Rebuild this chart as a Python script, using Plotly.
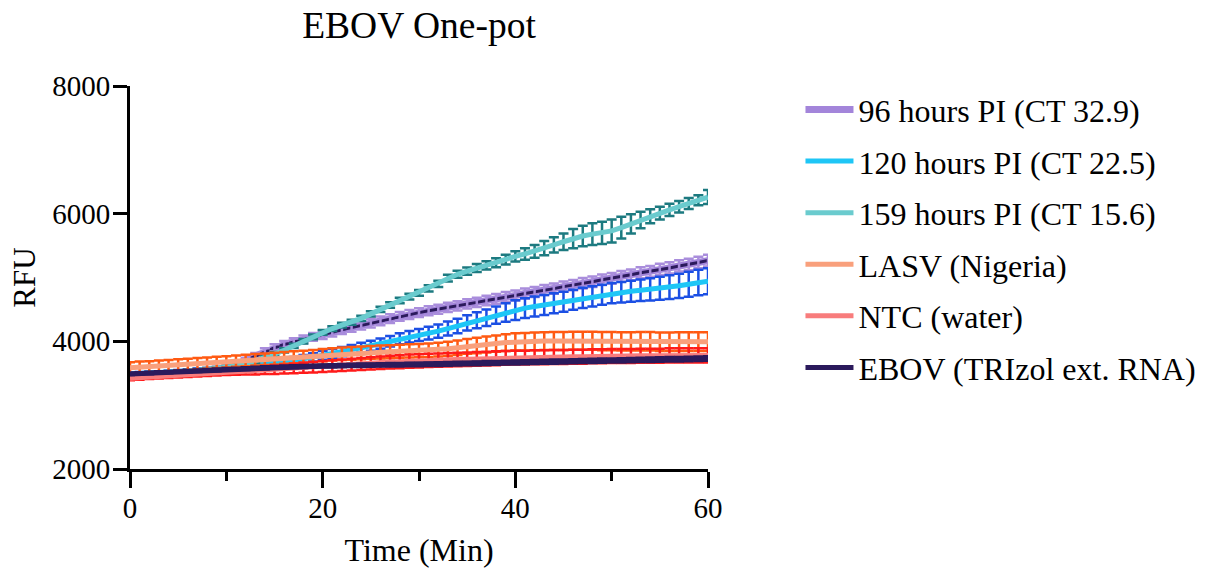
import plotly.graph_objects as go

TIME = list(range(0, 61))

SERIES_NAMES = ["96 hours PI (CT 32.9)", "120 hours PI (CT 22.5)", "159 hours PI (CT 15.6)",
                "LASV (Nigeria)", "NTC (water)", "EBOV (TRIzol ext. RNA)"]

M96 = [3450, 3460, 3470, 3480, 3495, 3505, 3520, 3530, 3545, 3560, 3580,
       3630, 3700, 3770, 3840, 3900, 3950, 3990, 4030, 4070, 4100,
       4140, 4180, 4215, 4250, 4285, 4320, 4355, 4390, 4420, 4450,
       4478, 4503, 4533, 4556, 4587, 4610, 4641, 4664, 4695, 4718,
       4749, 4772, 4803, 4826, 4857, 4880, 4911, 4934, 4965, 4988,
       5019, 5042, 5073, 5096, 5127, 5150, 5181, 5204, 5236, 5265]
E96 = [30, 30, 30, 30, 30, 32, 32, 32, 34, 34, 35,
       38, 42, 46, 50, 54, 56, 58, 60, 62, 64,
       64, 65, 66, 66, 67, 68, 68, 69, 70, 70,
       71, 72, 72, 73, 74, 74, 75, 76, 76, 77,
       78, 78, 79, 80, 80, 81, 82, 82, 83, 84,
       84, 85, 86, 86, 87, 88, 88, 89, 90, 92]

M120 = [3490, 3495, 3500, 3505, 3515, 3525, 3535, 3545, 3555, 3570, 3585,
        3595, 3610, 3625, 3640, 3655, 3675, 3700, 3725, 3750, 3780,
        3810, 3840, 3870, 3900, 3930, 3965, 4000, 4040, 4070, 4100,
        4130, 4160, 4200, 4240, 4290, 4330, 4370, 4410, 4450, 4490,
        4520, 4545, 4570, 4595, 4620, 4650, 4680, 4705, 4730, 4755,
        4770, 4785, 4800, 4815, 4830, 4850, 4870, 4895, 4920, 4940]
E120 = [25, 25, 25, 26, 26, 27, 27, 28, 28, 29, 30,
        32, 35, 38, 42, 46, 50, 55, 60, 64, 68,
        70, 72, 74, 76, 78, 80, 82, 85, 90, 95,
        100, 105, 110, 115, 120, 125, 130, 135, 145, 155,
        155, 156, 156, 157, 157, 157, 158, 158, 157, 157,
        160, 165, 170, 175, 180, 185, 190, 195, 200, 204]

M159 = [3460, 3470, 3480, 3490, 3500, 3515, 3530, 3545, 3560, 3575, 3595,
        3615, 3645, 3690, 3740, 3800, 3860, 3930, 4000, 4070, 4140,
        4200, 4255, 4300, 4360, 4430, 4500, 4570, 4640, 4700, 4760,
        4830, 4900, 4990, 5050, 5100, 5150, 5190, 5230, 5280, 5330,
        5370, 5410, 5460, 5510, 5560, 5610, 5650, 5680, 5700, 5730,
        5780, 5840, 5900, 5960, 6010, 6060, 6110, 6160, 6210, 6260]
E159 = [20, 20, 20, 20, 20, 21, 21, 22, 22, 23, 24,
        25, 26, 28, 30, 32, 33, 34, 35, 36, 37,
        38, 38, 39, 40, 40, 41, 42, 43, 44, 45,
        48, 50, 52, 55, 58, 62, 66, 70, 75, 80,
        90, 100, 110, 120, 130, 150, 160, 170, 175, 180,
        170, 150, 130, 110, 100, 95, 90, 85, 80, 110]

MLASV = [3585, 3595, 3600, 3610, 3620, 3630, 3640, 3650, 3660, 3670, 3680,
         3690, 3700, 3710, 3720, 3730, 3740, 3750, 3760, 3770, 3785,
         3795, 3805, 3812, 3820, 3826, 3832, 3838, 3844, 3850, 3855,
         3860, 3870, 3885, 3900, 3920, 3935, 3950, 3965, 3980, 3990,
         3995, 4000, 4005, 4005, 4005, 4010, 4010, 4010, 4005, 4005,
         4000, 4000, 4000, 4000, 3995, 3995, 3995, 3995, 3995, 3995]
ELASV = [88, 88, 88, 88, 88, 88, 88, 88, 88, 88, 88,
         89, 89, 90, 90, 91, 92, 93, 94, 95, 96,
         97, 98, 99, 100, 100, 101, 102, 103, 104, 105,
         106, 108, 110, 113, 116, 120, 124, 128, 132, 135,
         137, 138, 139, 140, 140, 141, 142, 142, 143, 143,
         144, 144, 145, 145, 145, 145, 146, 146, 146, 146]

MNTC = [3420, 3430, 3440, 3450, 3460, 3470, 3480, 3490, 3500, 3510, 3520,
        3525, 3535, 3540, 3550, 3555, 3565, 3575, 3585, 3595, 3605,
        3615, 3625, 3635, 3645, 3655, 3665, 3675, 3680, 3690, 3695,
        3700, 3705, 3710, 3715, 3720, 3725, 3730, 3735, 3740, 3745,
        3745, 3750, 3750, 3755, 3755, 3760, 3760, 3765, 3765, 3770,
        3770, 3770, 3775, 3775, 3775, 3780, 3780, 3780, 3780, 3780]
ENTC = [30, 30, 32, 34, 36, 38, 40, 42, 44, 46, 48,
        50, 54, 58, 62, 66, 70, 74, 78, 82, 85,
        88, 90, 92, 94, 96, 98, 100, 101, 102, 103,
        104, 105, 106, 106, 107, 107, 108, 108, 108, 108,
        109, 109, 109, 109, 110, 110, 110, 110, 110, 110,
        110, 110, 110, 110, 110, 110, 110, 110, 110, 110]

MEBOV = [3490, 3497, 3504, 3511, 3518, 3525, 3532, 3540, 3547, 3554, 3560,
         3567, 3573, 3580, 3586, 3592, 3598, 3602, 3606, 3610, 3613,
         3616, 3619, 3622, 3625, 3627, 3630, 3632, 3634, 3636, 3638,
         3640, 3643, 3646, 3650, 3653, 3656, 3660, 3663, 3666, 3670,
         3673, 3676, 3679, 3682, 3685, 3688, 3691, 3694, 3697, 3700,
         3703, 3706, 3709, 3712, 3715, 3718, 3721, 3724, 3727, 3730]
EEBOV = [18, 18, 18, 19, 19, 19, 20, 20, 20, 21, 21,
         21, 22, 22, 22, 23, 23, 23, 24, 24, 24,
         25, 25, 25, 26, 26, 26, 27, 27, 27, 28,
         28, 28, 29, 29, 29, 30, 30, 30, 30, 31,
         31, 31, 31, 32, 32, 32, 32, 33, 33, 33,
         33, 34, 34, 34, 34, 35, 35, 35, 35, 35]

LINE_COLORS = ["#A385DA", "#1EC6F6", "#6ACBCE", "#F9A07C", "#F87C7C", "#2B1A5C"]
ERR_COLORS = ["#A98DDC", "#1B4FE4", "#1C7A80", "#FF5A12", "#FF1A1A", "#2B1A5C"]

FONT = "Liberation Serif, Times New Roman, serif"

fig = go.Figure()

means = [M96, M120, M159, MLASV, MNTC, MEBOV]
errs = [E96, E120, E159, ELASV, ENTC, EEBOV]

for i, (name, m, e) in enumerate(zip(SERIES_NAMES, means, errs)):
    if i == 0:
        fig.add_trace(go.Scatter(x=TIME, y=m, mode="lines", name=name,
                                 legendgroup=f"g{i}",
                                 line=dict(color=LINE_COLORS[i], width=7)))
        fig.add_trace(go.Scatter(x=TIME, y=m, mode="lines", showlegend=False,
                                 hoverinfo="skip",
                                 line=dict(color="#2B1A5C", width=3)))
        fig.add_trace(go.Scatter(x=TIME, y=m, mode="markers", showlegend=False,
                                 hoverinfo="skip",
                                 marker=dict(size=1, color="rgba(0,0,0,0)"),
                                 error_y=dict(type="data", array=e, visible=True,
                                              color=ERR_COLORS[i], thickness=2.5, width=5)))
    else:
        fig.add_trace(go.Scatter(x=TIME, y=m, mode="lines", name=name,
                                 legendgroup=f"g{i}",
                                 line=dict(color=LINE_COLORS[i], width=5),
                                 error_y=dict(type="data", array=e, visible=True,
                                              color=ERR_COLORS[i], thickness=2.5, width=5)))

fig.update_layout(
    width=1205, height=573, autosize=False,
    margin=dict(l=130, r=497, t=86, b=104, autoexpand=False),
    paper_bgcolor="white", plot_bgcolor="white",
    font=dict(family=FONT, color="black"),
    title=dict(text="EBOV One-pot", x=0.5, xref="paper", xanchor="center",
               y=1 - 25 / 573, yref="container", yanchor="middle",
               font=dict(family=FONT, size=37.5, color="black")),
    showlegend=True,
    legend=dict(x=1.160, xanchor="left", y=1.010, yanchor="top",
                traceorder="grouped", tracegroupgap=7, itemwidth=48,
                maxheight=800,
                font=dict(family=FONT, size=32, color="black"),
                bgcolor="rgba(0,0,0,0)", borderwidth=0),
    xaxis=dict(range=[0, 60], showgrid=False, zeroline=False,
               showline=True, linecolor="black", linewidth=3,
               ticks="outside", ticklen=16, tickwidth=3, tickcolor="black",
               tickmode="array", tickvals=[0, 20, 40, 60],
               ticklabelstandoff=-5,
               minor=dict(ticks="outside", ticklen=9, tickwidth=3, tickcolor="black",
                          tickmode="array", tickvals=[10, 30, 50]),
               tickfont=dict(family=FONT, size=29, color="black"),
               title=dict(text="Time (Min)", font=dict(family=FONT, size=32, color="black"),
                          standoff=16)),
    yaxis=dict(range=[2000, 8000], showgrid=False, zeroline=False,
               showline=True, linecolor="black", linewidth=3,
               ticks="outside", ticklen=14, tickwidth=3, tickcolor="black",
               tickmode="array", tickvals=[2000, 4000, 6000, 8000],
               ticklabelstandoff=-3,
               tickfont=dict(family=FONT, size=29, color="black"),
               title=dict(text="RFU", font=dict(family=FONT, size=31, color="black"),
                          standoff=8)),
)

fig.write_html("out.html")
